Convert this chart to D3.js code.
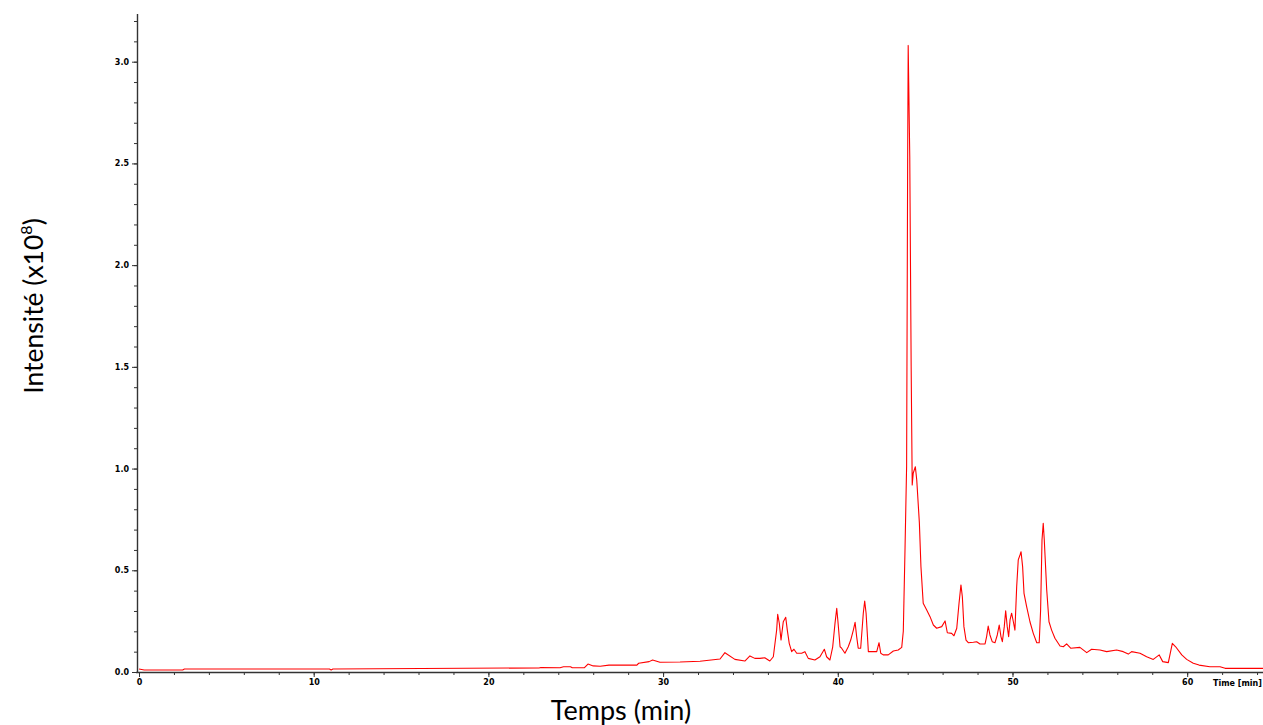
<!DOCTYPE html>
<html><head><meta charset="utf-8">
<script src="https://cdn.jsdelivr.net/npm/d3@7"></script>
<style>
html,body{margin:0;padding:0;background:#fff;overflow:hidden;}
svg{display:block;}
.tick text{font-family:"DejaVu Sans",sans-serif;font-weight:bold;font-size:8px;fill:#000;}
</style></head>
<body>
<svg id="chart" width="1263" height="725"></svg>
<script>
// ---- data ----
const times = [0, 0.3, 2.5, 2.6, 10.9, 11.0, 11.1, 22.9, 23.0, 24.1, 24.3, 24.7, 24.8, 25.5, 25.7, 26.0, 26.4, 26.9, 28.5, 28.6, 29.2, 29.4, 29.82, 30.97, 32.11, 33.26, 33.54, 34.11, 34.68, 34.97, 35.25, 35.54, 35.82, 36.11, 36.31, 36.50, 36.56, 36.65, 36.75, 36.88, 37.02, 37.11, 37.22, 37.36, 37.49, 37.65, 37.93, 38.12, 38.31, 38.69, 38.98, 39.23, 39.36, 39.55, 39.71, 39.84, 39.94, 40.01, 40.13, 40.22, 40.41, 40.60, 40.74, 40.89, 40.99, 41.08, 41.17, 41.31, 41.46, 41.54, 41.62, 41.75, 42.03, 42.23, 42.36, 42.46, 42.60, 42.89, 43.18, 43.46, 43.66, 43.75, 43.85, 43.94, 44.00, 44.03, 44.06, 44.12, 44.20, 44.26, 44.32, 44.44, 44.52, 44.67, 44.76, 44.89, 45.09, 45.28, 45.47, 45.66, 45.95, 46.14, 46.27, 46.52, 46.65, 46.81, 46.94, 47.05, 47.13, 47.22, 47.34, 47.47, 47.76, 47.95, 48.14, 48.43, 48.52, 48.61, 48.71, 48.84, 49.00, 49.13, 49.24, 49.34, 49.42, 49.53, 49.61, 49.70, 49.78, 49.86, 49.95, 50.05, 50.14, 50.24, 50.33, 50.43, 50.49, 50.58, 50.66, 50.81, 51.00, 51.19, 51.39, 51.53, 51.61, 51.69, 51.76, 51.82, 51.96, 52.09, 52.24, 52.43, 52.72, 52.91, 53.10, 53.33, 53.86, 54.25, 54.53, 55.01, 55.39, 55.96, 56.34, 56.63, 56.82, 57.30, 57.68, 58.06, 58.40, 58.60, 58.92, 59.15, 59.34, 59.69, 59.97, 60.35, 60.68, 61.30, 61.88, 62.17, 64.34];
const intensity = [0.015, 0.010, 0.010, 0.015, 0.015, 0.010, 0.015, 0.020, 0.022, 0.021, 0.026, 0.026, 0.021, 0.021, 0.039, 0.030, 0.028, 0.034, 0.034, 0.043, 0.051, 0.059, 0.048, 0.049, 0.053, 0.064, 0.095, 0.062, 0.054, 0.079, 0.067, 0.067, 0.070, 0.054, 0.075, 0.206, 0.284, 0.241, 0.157, 0.247, 0.269, 0.206, 0.141, 0.100, 0.112, 0.092, 0.092, 0.100, 0.067, 0.059, 0.075, 0.112, 0.075, 0.059, 0.124, 0.239, 0.313, 0.247, 0.124, 0.117, 0.092, 0.124, 0.157, 0.206, 0.244, 0.174, 0.117, 0.117, 0.289, 0.349, 0.289, 0.100, 0.100, 0.100, 0.144, 0.092, 0.084, 0.084, 0.103, 0.108, 0.121, 0.200, 0.612, 1.013, 2.530, 3.080, 2.900, 2.530, 1.500, 0.919, 0.978, 1.009, 0.944, 0.733, 0.518, 0.338, 0.305, 0.272, 0.231, 0.215, 0.223, 0.251, 0.193, 0.190, 0.178, 0.215, 0.338, 0.428, 0.370, 0.223, 0.157, 0.144, 0.146, 0.149, 0.138, 0.138, 0.174, 0.226, 0.182, 0.149, 0.144, 0.182, 0.231, 0.174, 0.149, 0.223, 0.301, 0.223, 0.174, 0.256, 0.289, 0.247, 0.206, 0.419, 0.551, 0.575, 0.591, 0.518, 0.387, 0.321, 0.247, 0.190, 0.144, 0.144, 0.305, 0.649, 0.731, 0.649, 0.403, 0.247, 0.206, 0.166, 0.128, 0.124, 0.138, 0.117, 0.121, 0.095, 0.112, 0.108, 0.100, 0.108, 0.100, 0.088, 0.100, 0.092, 0.075, 0.062, 0.084, 0.051, 0.046, 0.141, 0.124, 0.084, 0.062, 0.043, 0.034, 0.026, 0.026, 0.018, 0.018];
const xMajorTicks = [0, 10, 20, 30, 40, 50, 60];
const xMinorTicks = d3.range(0, 65, 2);
const yMajorTicks = [0, 0.5, 1.0, 1.5, 2.0, 2.5, 3.0];
const yMinorTicks = d3.range(0, 33).map(i => i / 10);
const xLabel = "Temps (min)";
const yLabelMain = "Intensité (x10";
const yLabelSup = "8";
const yLabelEnd = ")";
const timeLabel = "Time [min]";

// ---- layout ----
const svg = d3.select("#chart");
const x = d3.scaleLinear().domain([0, 64.34]).range([139, 1263]);
const y = d3.scaleLinear().domain([0, 3.0]).range([672, 61.7]);
const yTop = 3.235;

const fmt = d3.format(".1f");

// x axis
const gx = svg.append("g").attr("transform", "translate(0,672)");
gx.call(d3.axisBottom(x).tickValues(xMinorTicks).tickSize(3).tickFormat(""));
gx.call(g => g.select(".domain").remove());
const gx2 = svg.append("g").attr("transform", "translate(0,672)");
gx2.call(d3.axisBottom(x).tickValues(xMajorTicks).tickSize(5).tickPadding(2).tickFormat(d3.format("d")));
gx2.call(g => g.select(".domain").remove());
svg.selectAll("g .tick line").attr("stroke", "#333");
svg.append("line").attr("x1", 136).attr("x2", 1263).attr("y1", 672.5).attr("y2", 672.5)
  .attr("stroke", "#333").attr("stroke-width", 1.4);

// y axis
const gy = svg.append("g").attr("transform", "translate(137,0)");
gy.call(d3.axisLeft(y).tickValues(yMinorTicks).tickSize(3).tickFormat(""));
gy.call(g => g.select(".domain").remove());
const gy2 = svg.append("g").attr("transform", "translate(137,0)");
gy2.call(d3.axisLeft(y).tickValues(yMajorTicks).tickSize(5).tickPadding(3).tickFormat(fmt));
gy2.call(g => g.select(".domain").remove());
svg.selectAll("g .tick line").attr("stroke", "#333");
svg.append("line").attr("x1", 137.5).attr("x2", 137.5).attr("y1", y(yTop)).attr("y2", 673)
  .attr("stroke", "#333").attr("stroke-width", 1.4);

// Time [min] label
svg.append("text").attr("x", 1213).attr("y", 686)
  .attr("font-family", "DejaVu Sans, sans-serif").attr("font-weight", "bold")
  .attr("font-size", 8).attr("fill", "#000").text(timeLabel);

// line
const pts = times.map((t, i) => [t, intensity[i]]);
svg.append("path").datum(pts)
  .attr("fill", "none").attr("stroke", "#ff0000").attr("stroke-width", 1.1)
  .attr("stroke-linejoin", "round")
  .attr("d", d3.line().x(d => x(d[0])).y(d => y(d[1])));

// axis titles
const xt = svg.append("text").attr("x", 621).attr("y", 720).attr("text-anchor", "middle")
  .attr("font-family", "Lato, 'Open Sans', sans-serif").attr("font-size", 27).attr("fill", "#000")
  .text(xLabel);
const yt = svg.append("text").attr("transform", "translate(43,306) rotate(-90)").attr("text-anchor", "middle")
  .attr("font-family", "Lato, 'Open Sans', sans-serif").attr("font-size", 26.5).attr("fill", "#000");
yt.append("tspan").text(yLabelMain);
yt.append("tspan").attr("font-size", 16).attr("dy", -11).text(yLabelSup);
yt.append("tspan").attr("dy", 11).text(yLabelEnd);
</script>
</body></html>
